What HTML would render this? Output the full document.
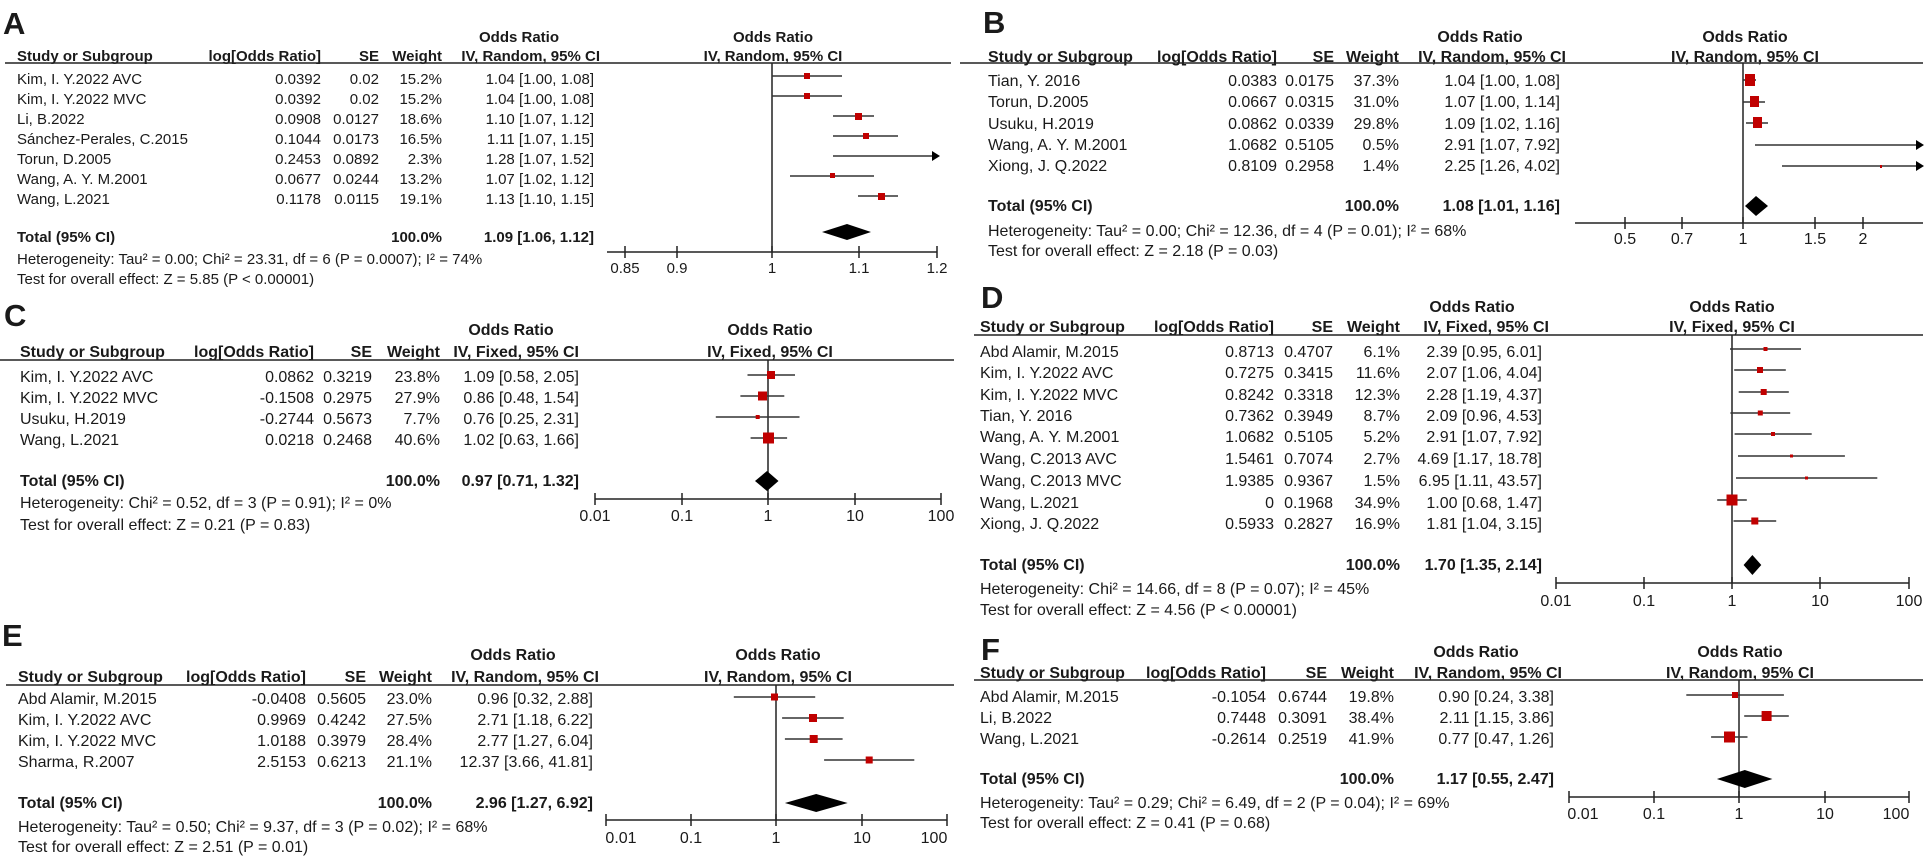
<!DOCTYPE html>
<html><head><meta charset="utf-8"><style>
html,body{margin:0;padding:0;background:#fff;}
svg{display:block;font-family:"Liberation Sans",Arial,sans-serif;fill:#1a1a1a;}
.b{font-weight:bold;}
.L{font-weight:bold;font-size:31px;}
.s15{font-size:15px;} .s16{font-size:16px;}
.e{text-anchor:end;} .m{text-anchor:middle;}
.ln{stroke:#222;stroke-width:1.5;fill:none;}
.w{stroke:#333;stroke-width:1.6;}
.bx{fill:#c00000;}
.dm{fill:#000;}
</style></head><body>
<svg width="1925" height="862" viewBox="0 0 1925 862" xmlns="http://www.w3.org/2000/svg">
<!-- ================= A ================= -->
<text class="L" x="3" y="34">A</text>
<g class="s15">
<text class="b m" x="519" y="42">Odds Ratio</text>
<text class="b m" x="773" y="42">Odds Ratio</text>
<text class="b" x="17" y="61">Study or Subgroup</text>
<text class="b e" x="321" y="61">log[Odds Ratio]</text>
<text class="b e" x="379" y="61">SE</text>
<text class="b e" x="442" y="61">Weight</text>
<text class="b e" x="600" y="61">IV, Random, 95% CI</text>
<text class="b m" x="773" y="61">IV, Random, 95% CI</text>
<text x="17" y="84">Kim, I. Y.2022 AVC</text><text class="e" x="321" y="84">0.0392</text><text class="e" x="379" y="84">0.02</text><text class="e" x="442" y="84">15.2%</text><text class="e" x="594" y="84">1.04 [1.00, 1.08]</text>
<text x="17" y="104">Kim, I. Y.2022 MVC</text><text class="e" x="321" y="104">0.0392</text><text class="e" x="379" y="104">0.02</text><text class="e" x="442" y="104">15.2%</text><text class="e" x="594" y="104">1.04 [1.00, 1.08]</text>
<text x="17" y="124">Li, B.2022</text><text class="e" x="321" y="124">0.0908</text><text class="e" x="379" y="124">0.0127</text><text class="e" x="442" y="124">18.6%</text><text class="e" x="594" y="124">1.10 [1.07, 1.12]</text>
<text x="17" y="144">Sánchez-Perales, C.2015</text><text class="e" x="321" y="144">0.1044</text><text class="e" x="379" y="144">0.0173</text><text class="e" x="442" y="144">16.5%</text><text class="e" x="594" y="144">1.11 [1.07, 1.15]</text>
<text x="17" y="164">Torun, D.2005</text><text class="e" x="321" y="164">0.2453</text><text class="e" x="379" y="164">0.0892</text><text class="e" x="442" y="164">2.3%</text><text class="e" x="594" y="164">1.28 [1.07, 1.52]</text>
<text x="17" y="184">Wang, A. Y. M.2001</text><text class="e" x="321" y="184">0.0677</text><text class="e" x="379" y="184">0.0244</text><text class="e" x="442" y="184">13.2%</text><text class="e" x="594" y="184">1.07 [1.02, 1.12]</text>
<text x="17" y="204">Wang, L.2021</text><text class="e" x="321" y="204">0.1178</text><text class="e" x="379" y="204">0.0115</text><text class="e" x="442" y="204">19.1%</text><text class="e" x="594" y="204">1.13 [1.10, 1.15]</text>
<text class="b" x="17" y="242">Total (95% CI)</text><text class="b e" x="442" y="242">100.0%</text><text class="b e" x="594" y="242">1.09 [1.06, 1.12]</text>
<text x="17" y="264">Heterogeneity: Tau² = 0.00; Chi² = 23.31, df = 6 (P = 0.0007); I² = 74%</text>
<text x="17" y="284">Test for overall effect: Z = 5.85 (P &lt; 0.00001)</text>
<text class="m" x="625" y="273">0.85</text><text class="m" x="677" y="273">0.9</text><text class="m" x="772" y="273">1</text><text class="m" x="859" y="273">1.1</text><text class="m" x="937" y="273">1.2</text>
</g>
<line class="ln" x1="5" y1="63" x2="951" y2="63"/>
<line class="ln" x1="772" y1="63" x2="772" y2="252"/>
<line class="ln" x1="607" y1="252" x2="937" y2="252"/>
<path class="ln" d="M625 246V258M677 246V258M772 246V258M859 246V258M937 246V258"/>
<g class="w">
<line x1="772" y1="76" x2="842" y2="76"/><line x1="772" y1="96" x2="842" y2="96"/>
<line x1="833" y1="116" x2="874" y2="116"/><line x1="833" y1="136" x2="898" y2="136"/>
<line x1="833" y1="156" x2="937" y2="156"/><line x1="790" y1="176" x2="874" y2="176"/>
<line x1="858" y1="196" x2="898" y2="196"/>
</g>
<path d="M932 151L940 156L932 161Z" fill="#000"/>
<g class="bx">
<rect x="804" y="73" width="6" height="6"/><rect x="804" y="93" width="6" height="6"/>
<rect x="855" y="113" width="7" height="7"/><rect x="863" y="133" width="6" height="6"/>
<rect x="830" y="173" width="5" height="5"/><rect x="878" y="193" width="7" height="7"/>
</g>
<path class="dm" d="M822 232L847 224L871 232L847 240Z"/>

<!-- ================= B ================= -->
<text class="L" x="983" y="33">B</text>
<g class="s16">
<text class="b m" x="1480" y="42">Odds Ratio</text>
<text class="b m" x="1745" y="42">Odds Ratio</text>
<text class="b" x="988" y="62">Study or Subgroup</text>
<text class="b e" x="1277" y="62">log[Odds Ratio]</text>
<text class="b e" x="1334" y="62">SE</text>
<text class="b e" x="1399" y="62">Weight</text>
<text class="b e" x="1566" y="62">IV, Random, 95% CI</text>
<text class="b m" x="1745" y="62">IV, Random, 95% CI</text>
<text x="988" y="86">Tian, Y. 2016</text><text class="e" x="1277" y="86">0.0383</text><text class="e" x="1334" y="86">0.0175</text><text class="e" x="1399" y="86">37.3%</text><text class="e" x="1560" y="86">1.04 [1.00, 1.08]</text>
<text x="988" y="107">Torun, D.2005</text><text class="e" x="1277" y="107">0.0667</text><text class="e" x="1334" y="107">0.0315</text><text class="e" x="1399" y="107">31.0%</text><text class="e" x="1560" y="107">1.07 [1.00, 1.14]</text>
<text x="988" y="129">Usuku, H.2019</text><text class="e" x="1277" y="129">0.0862</text><text class="e" x="1334" y="129">0.0339</text><text class="e" x="1399" y="129">29.8%</text><text class="e" x="1560" y="129">1.09 [1.02, 1.16]</text>
<text x="988" y="150">Wang, A. Y. M.2001</text><text class="e" x="1277" y="150">1.0682</text><text class="e" x="1334" y="150">0.5105</text><text class="e" x="1399" y="150">0.5%</text><text class="e" x="1560" y="150">2.91 [1.07, 7.92]</text>
<text x="988" y="171">Xiong, J. Q.2022</text><text class="e" x="1277" y="171">0.8109</text><text class="e" x="1334" y="171">0.2958</text><text class="e" x="1399" y="171">1.4%</text><text class="e" x="1560" y="171">2.25 [1.26, 4.02]</text>
<text class="b" x="988" y="211">Total (95% CI)</text><text class="b e" x="1399" y="211">100.0%</text><text class="b e" x="1560" y="211">1.08 [1.01, 1.16]</text>
<text x="988" y="236">Heterogeneity: Tau² = 0.00; Chi² = 12.36, df = 4 (P = 0.01); I² = 68%</text>
<text x="988" y="256">Test for overall effect: Z = 2.18 (P = 0.03)</text>
<text class="m" x="1625" y="244">0.5</text><text class="m" x="1682" y="244">0.7</text><text class="m" x="1743" y="244">1</text><text class="m" x="1815" y="244">1.5</text><text class="m" x="1863" y="244">2</text>
</g>
<line class="ln" x1="960" y1="63" x2="1923" y2="63"/>
<line class="ln" x1="1743" y1="63" x2="1743" y2="223"/>
<line class="ln" x1="1575" y1="223" x2="1923" y2="223"/>
<path class="ln" d="M1625 217V229M1682 217V229M1743 217V229M1815 217V229M1863 217V229"/>
<g class="w">
<line x1="1743" y1="80" x2="1756" y2="80"/><line x1="1743" y1="102" x2="1765" y2="102"/>
<line x1="1746" y1="123" x2="1768" y2="123"/><line x1="1755" y1="145" x2="1920" y2="145"/>
<line x1="1782" y1="166" x2="1920" y2="166"/>
</g>
<path d="M1916 140L1924 145L1916 150Z M1916 161L1924 166L1916 171Z" fill="#000"/>
<g class="bx">
<rect x="1745" y="74" width="10" height="12"/><rect x="1750" y="96" width="9" height="11"/>
<rect x="1753" y="117" width="9" height="11"/><rect x="1880" y="165" width="2" height="3"/>
</g>
<path class="dm" d="M1745 206L1756 196L1768 206L1756 216Z"/>

<!-- ================= C ================= -->
<text class="L" x="4" y="326">C</text>
<g class="s16">
<text class="b m" x="511" y="335">Odds Ratio</text>
<text class="b m" x="770" y="335">Odds Ratio</text>
<text class="b" x="20" y="357">Study or Subgroup</text>
<text class="b e" x="314" y="357">log[Odds Ratio]</text>
<text class="b e" x="372" y="357">SE</text>
<text class="b e" x="440" y="357">Weight</text>
<text class="b e" x="579" y="357">IV, Fixed, 95% CI</text>
<text class="b m" x="770" y="357">IV, Fixed, 95% CI</text>
<text x="20" y="382">Kim, I. Y.2022 AVC</text><text class="e" x="314" y="382">0.0862</text><text class="e" x="372" y="382">0.3219</text><text class="e" x="440" y="382">23.8%</text><text class="e" x="579" y="382">1.09 [0.58, 2.05]</text>
<text x="20" y="403">Kim, I. Y.2022 MVC</text><text class="e" x="314" y="403">-0.1508</text><text class="e" x="372" y="403">0.2975</text><text class="e" x="440" y="403">27.9%</text><text class="e" x="579" y="403">0.86 [0.48, 1.54]</text>
<text x="20" y="424">Usuku, H.2019</text><text class="e" x="314" y="424">-0.2744</text><text class="e" x="372" y="424">0.5673</text><text class="e" x="440" y="424">7.7%</text><text class="e" x="579" y="424">0.76 [0.25, 2.31]</text>
<text x="20" y="445">Wang, L.2021</text><text class="e" x="314" y="445">0.0218</text><text class="e" x="372" y="445">0.2468</text><text class="e" x="440" y="445">40.6%</text><text class="e" x="579" y="445">1.02 [0.63, 1.66]</text>
<text class="b" x="20" y="486">Total (95% CI)</text><text class="b e" x="440" y="486">100.0%</text><text class="b e" x="579" y="486">0.97 [0.71, 1.32]</text>
<text x="20" y="508">Heterogeneity: Chi² = 0.52, df = 3 (P = 0.91); I² = 0%</text>
<text x="20" y="530">Test for overall effect: Z = 0.21 (P = 0.83)</text>
<text class="m" x="595" y="521">0.01</text><text class="m" x="682" y="521">0.1</text><text class="m" x="768" y="521">1</text><text class="m" x="855" y="521">10</text><text class="m" x="941" y="521">100</text>
</g>
<line class="ln" x1="0" y1="360" x2="954" y2="360"/>
<line class="ln" x1="768" y1="360" x2="768" y2="499"/>
<line class="ln" x1="595" y1="499" x2="941" y2="499"/>
<path class="ln" d="M595 493V505M682 493V505M768 493V505M855 493V505M941 493V505"/>
<g class="w">
<line x1="747.5" y1="375" x2="795" y2="375"/><line x1="740.4" y1="396" x2="784.3" y2="396"/>
<line x1="715.8" y1="417" x2="799.5" y2="417"/><line x1="750.6" y1="438" x2="787.1" y2="438"/>
</g>
<g class="bx">
<rect x="767" y="371" width="8" height="8"/><rect x="758" y="391.5" width="9" height="9"/>
<rect x="755.7" y="415" width="4" height="4"/><rect x="763" y="432.5" width="11" height="11"/>
</g>
<path class="dm" d="M755 481L767 471L778.5 481L767 491Z"/>

<!-- ================= D ================= -->
<text class="L" x="981" y="308">D</text>
<g class="s16">
<text class="b m" x="1472" y="312">Odds Ratio</text>
<text class="b m" x="1732" y="312">Odds Ratio</text>
<text class="b" x="980" y="332">Study or Subgroup</text>
<text class="b e" x="1274" y="332">log[Odds Ratio]</text>
<text class="b e" x="1333" y="332">SE</text>
<text class="b e" x="1400" y="332">Weight</text>
<text class="b e" x="1549" y="332">IV, Fixed, 95% CI</text>
<text class="b m" x="1732" y="332">IV, Fixed, 95% CI</text>
<text x="980" y="357">Abd Alamir, M.2015</text><text class="e" x="1274" y="357">0.8713</text><text class="e" x="1333" y="357">0.4707</text><text class="e" x="1400" y="357">6.1%</text><text class="e" x="1542" y="357">2.39 [0.95, 6.01]</text>
<text x="980" y="378">Kim, I. Y.2022 AVC</text><text class="e" x="1274" y="378">0.7275</text><text class="e" x="1333" y="378">0.3415</text><text class="e" x="1400" y="378">11.6%</text><text class="e" x="1542" y="378">2.07 [1.06, 4.04]</text>
<text x="980" y="400">Kim, I. Y.2022 MVC</text><text class="e" x="1274" y="400">0.8242</text><text class="e" x="1333" y="400">0.3318</text><text class="e" x="1400" y="400">12.3%</text><text class="e" x="1542" y="400">2.28 [1.19, 4.37]</text>
<text x="980" y="421">Tian, Y. 2016</text><text class="e" x="1274" y="421">0.7362</text><text class="e" x="1333" y="421">0.3949</text><text class="e" x="1400" y="421">8.7%</text><text class="e" x="1542" y="421">2.09 [0.96, 4.53]</text>
<text x="980" y="442">Wang, A. Y. M.2001</text><text class="e" x="1274" y="442">1.0682</text><text class="e" x="1333" y="442">0.5105</text><text class="e" x="1400" y="442">5.2%</text><text class="e" x="1542" y="442">2.91 [1.07, 7.92]</text>
<text x="980" y="464">Wang, C.2013 AVC</text><text class="e" x="1274" y="464">1.5461</text><text class="e" x="1333" y="464">0.7074</text><text class="e" x="1400" y="464">2.7%</text><text class="e" x="1542" y="464">4.69 [1.17, 18.78]</text>
<text x="980" y="486">Wang, C.2013 MVC</text><text class="e" x="1274" y="486">1.9385</text><text class="e" x="1333" y="486">0.9367</text><text class="e" x="1400" y="486">1.5%</text><text class="e" x="1542" y="486">6.95 [1.11, 43.57]</text>
<text x="980" y="508">Wang, L.2021</text><text class="e" x="1274" y="508">0</text><text class="e" x="1333" y="508">0.1968</text><text class="e" x="1400" y="508">34.9%</text><text class="e" x="1542" y="508">1.00 [0.68, 1.47]</text>
<text x="980" y="529">Xiong, J. Q.2022</text><text class="e" x="1274" y="529">0.5933</text><text class="e" x="1333" y="529">0.2827</text><text class="e" x="1400" y="529">16.9%</text><text class="e" x="1542" y="529">1.81 [1.04, 3.15]</text>
<text class="b" x="980" y="570">Total (95% CI)</text><text class="b e" x="1400" y="570">100.0%</text><text class="b e" x="1542" y="570">1.70 [1.35, 2.14]</text>
<text x="980" y="594">Heterogeneity: Chi² = 14.66, df = 8 (P = 0.07); I² = 45%</text>
<text x="980" y="615">Test for overall effect: Z = 4.56 (P &lt; 0.00001)</text>
<text class="m" x="1556" y="606">0.01</text><text class="m" x="1644" y="606">0.1</text><text class="m" x="1732" y="606">1</text><text class="m" x="1820" y="606">10</text><text class="m" x="1909" y="606">100</text>
</g>
<line class="ln" x1="974" y1="335" x2="1923" y2="335"/>
<line class="ln" x1="1732" y1="335" x2="1732" y2="583"/>
<line class="ln" x1="1556" y1="583" x2="1909" y2="583"/>
<path class="ln" d="M1556 577V589M1644 577V589M1732 577V589M1820 577V589M1909 577V589"/>
<g class="w">
<line x1="1730" y1="349" x2="1801" y2="349"/><line x1="1734.2" y1="370" x2="1785.8" y2="370"/>
<line x1="1738.7" y1="392" x2="1788.8" y2="392"/><line x1="1730.4" y1="413" x2="1790.2" y2="413"/>
<line x1="1734.6" y1="434" x2="1811.7" y2="434"/><line x1="1738" y1="456" x2="1844.9" y2="456"/>
<line x1="1736" y1="478" x2="1877.3" y2="478"/><line x1="1717.2" y1="500" x2="1746.8" y2="500"/>
<line x1="1733.5" y1="521" x2="1776.2" y2="521"/>
</g>
<g class="bx">
<rect x="1763.5" y="347" width="4" height="4"/><rect x="1757" y="367" width="6" height="6"/>
<rect x="1760.7" y="389" width="6" height="6"/><rect x="1757.8" y="410.5" width="5" height="5"/>
<rect x="1771" y="432" width="4" height="4"/><rect x="1790" y="454.5" width="3" height="3"/>
<rect x="1805" y="476.5" width="3" height="3"/><rect x="1726.5" y="494.5" width="11" height="11"/>
<rect x="1751.3" y="517.5" width="7" height="7"/>
</g>
<path class="dm" d="M1743.6 565L1752.4 555L1761.3 565L1752.4 575Z"/>

<!-- ================= E ================= -->
<text class="L" x="2" y="646">E</text>
<g class="s16">
<text class="b m" x="513" y="660">Odds Ratio</text>
<text class="b m" x="778" y="660">Odds Ratio</text>
<text class="b" x="18" y="682">Study or Subgroup</text>
<text class="b e" x="306" y="682">log[Odds Ratio]</text>
<text class="b e" x="366" y="682">SE</text>
<text class="b e" x="432" y="682">Weight</text>
<text class="b e" x="599" y="682">IV, Random, 95% CI</text>
<text class="b m" x="778" y="682">IV, Random, 95% CI</text>
<text x="18" y="704">Abd Alamir, M.2015</text><text class="e" x="306" y="704">-0.0408</text><text class="e" x="366" y="704">0.5605</text><text class="e" x="432" y="704">23.0%</text><text class="e" x="593" y="704">0.96 [0.32, 2.88]</text>
<text x="18" y="725">Kim, I. Y.2022 AVC</text><text class="e" x="306" y="725">0.9969</text><text class="e" x="366" y="725">0.4242</text><text class="e" x="432" y="725">27.5%</text><text class="e" x="593" y="725">2.71 [1.18, 6.22]</text>
<text x="18" y="746">Kim, I. Y.2022 MVC</text><text class="e" x="306" y="746">1.0188</text><text class="e" x="366" y="746">0.3979</text><text class="e" x="432" y="746">28.4%</text><text class="e" x="593" y="746">2.77 [1.27, 6.04]</text>
<text x="18" y="767">Sharma, R.2007</text><text class="e" x="306" y="767">2.5153</text><text class="e" x="366" y="767">0.6213</text><text class="e" x="432" y="767">21.1%</text><text class="e" x="593" y="767">12.37 [3.66, 41.81]</text>
<text class="b" x="18" y="808">Total (95% CI)</text><text class="b e" x="432" y="808">100.0%</text><text class="b e" x="593" y="808">2.96 [1.27, 6.92]</text>
<text x="18" y="832">Heterogeneity: Tau² = 0.50; Chi² = 9.37, df = 3 (P = 0.02); I² = 68%</text>
<text x="18" y="852">Test for overall effect: Z = 2.51 (P = 0.01)</text>
<text class="m" x="621" y="843">0.01</text><text class="m" x="691" y="843">0.1</text><text class="m" x="776" y="843">1</text><text class="m" x="862" y="843">10</text><text class="m" x="934" y="843">100</text>
</g>
<line class="ln" x1="6" y1="685" x2="954" y2="685"/>
<line class="ln" x1="776" y1="685" x2="776" y2="820"/>
<line class="ln" x1="606" y1="820" x2="947" y2="820"/>
<path class="ln" d="M606 814V826M691 814V826M776 814V826M862 814V826M947 814V826"/>
<g class="w">
<line x1="733.8" y1="697" x2="815.2" y2="697"/><line x1="782.1" y1="718" x2="843.7" y2="718"/>
<line x1="784.9" y1="739" x2="842.6" y2="739"/><line x1="824.1" y1="760" x2="914.3" y2="760"/>
</g>
<g class="bx">
<rect x="771" y="693.5" width="7" height="7"/><rect x="809" y="714" width="8" height="8"/>
<rect x="809.7" y="735" width="8" height="8"/><rect x="865.7" y="756.5" width="7" height="7"/>
</g>
<path class="dm" d="M784.9 803L816.2 794L847.7 803L816.2 812Z"/>

<!-- ================= F ================= -->
<text class="L" x="981" y="660">F</text>
<g class="s16">
<text class="b m" x="1476" y="657">Odds Ratio</text>
<text class="b m" x="1740" y="657">Odds Ratio</text>
<text class="b" x="980" y="678">Study or Subgroup</text>
<text class="b e" x="1266" y="678">log[Odds Ratio]</text>
<text class="b e" x="1327" y="678">SE</text>
<text class="b e" x="1394" y="678">Weight</text>
<text class="b e" x="1562" y="678">IV, Random, 95% CI</text>
<text class="b m" x="1740" y="678">IV, Random, 95% CI</text>
<text x="980" y="702">Abd Alamir, M.2015</text><text class="e" x="1266" y="702">-0.1054</text><text class="e" x="1327" y="702">0.6744</text><text class="e" x="1394" y="702">19.8%</text><text class="e" x="1554" y="702">0.90 [0.24, 3.38]</text>
<text x="980" y="723">Li, B.2022</text><text class="e" x="1266" y="723">0.7448</text><text class="e" x="1327" y="723">0.3091</text><text class="e" x="1394" y="723">38.4%</text><text class="e" x="1554" y="723">2.11 [1.15, 3.86]</text>
<text x="980" y="744">Wang, L.2021</text><text class="e" x="1266" y="744">-0.2614</text><text class="e" x="1327" y="744">0.2519</text><text class="e" x="1394" y="744">41.9%</text><text class="e" x="1554" y="744">0.77 [0.47, 1.26]</text>
<text class="b" x="980" y="784">Total (95% CI)</text><text class="b e" x="1394" y="784">100.0%</text><text class="b e" x="1554" y="784">1.17 [0.55, 2.47]</text>
<text x="980" y="808">Heterogeneity: Tau² = 0.29; Chi² = 6.49, df = 2 (P = 0.04); I² = 69%</text>
<text x="980" y="828">Test for overall effect: Z = 0.41 (P = 0.68)</text>
<text class="m" x="1583" y="819">0.01</text><text class="m" x="1654" y="819">0.1</text><text class="m" x="1739" y="819">1</text><text class="m" x="1825" y="819">10</text><text class="m" x="1896" y="819">100</text>
</g>
<line class="ln" x1="974" y1="680" x2="1923" y2="680"/>
<line class="ln" x1="1739" y1="680" x2="1739" y2="797"/>
<line class="ln" x1="1569" y1="797" x2="1909" y2="797"/>
<path class="ln" d="M1569 791V803M1654 791V803M1739 791V803M1825 791V803M1909 791V803"/>
<g class="w">
<line x1="1686.3" y1="695" x2="1783.9" y2="695"/><line x1="1744.2" y1="716" x2="1788.8" y2="716"/>
<line x1="1711.1" y1="737" x2="1747.5" y2="737"/>
</g>
<g class="bx">
<rect x="1732" y="692" width="6" height="6"/><rect x="1761.6" y="711" width="10" height="10"/>
<rect x="1724" y="731.5" width="11" height="11"/>
</g>
<path class="dm" d="M1716.9 779L1744.8 770L1772.4 779L1744.8 788Z"/>
</svg>
</body></html>
